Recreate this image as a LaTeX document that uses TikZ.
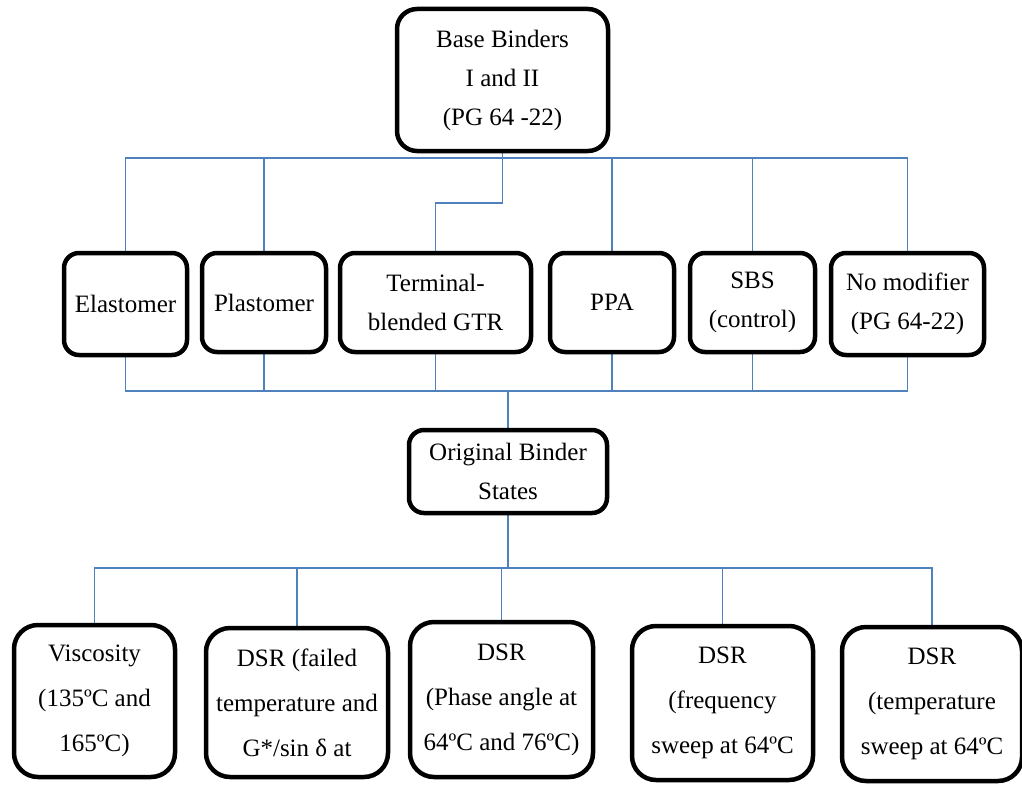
\documentclass[tikz,border=0pt]{standalone}
\usepackage{fontspec}
\setmainfont{Liberation Serif}
\usetikzlibrary{backgrounds}
\definecolor{linkblue}{HTML}{4F81BD}
\begin{document}
\begin{tikzpicture}[x=1pt,y=-1pt,
  box/.style={draw=black, line width=4.5pt, rounded corners=#1, inner sep=0pt,
    align=center, fill=white, font=\fontsize{25}{39}\selectfont},
  box/.default=15pt,
  lowbox/.style={box=24pt, font=\fontsize{25}{45}\selectfont},
  conn/.style={draw=linkblue, line width=1.8pt}]
\useasboundingbox (0,0) rectangle (1022,784);
\clip (0,0) rectangle (1022,784);
% top
\node[box=20pt, minimum width=211pt, minimum height=142pt] (top) at (502.5,80)
  {Base Binders\\I and II\\(PG 64 -22)};
% modifiers
\node[box, minimum width=123pt, minimum height=102pt] (elast) at (125.5,304) {Elastomer};
\node[box, minimum width=124pt, minimum height=99pt] (plast) at (264,302.5) {Plastomer};
\node[box, minimum width=191pt, minimum height=99pt] (term) at (435.5,302.5) {Terminal-\\blended GTR};
\node[box, minimum width=124pt, minimum height=99pt] (ppa) at (612,302.5) {PPA};
\node[box, minimum width=125pt, minimum height=99pt] (sbs) at (752.5,302.5) {SBS\\(control)};
\node[box, minimum width=153pt, minimum height=102pt] (nomod) at (907.5,304) {No modifier\\(PG 64-22)};
% original
\node[box, minimum width=198pt, minimum height=83pt] (orig) at (508,471.5) {Original Binder\\States};
% tests
\node[lowbox, minimum width=161pt, minimum height=152pt] (visc) at (94.5,701) {Viscosity\\(135ºC and\\165ºC)};
\node[lowbox, minimum width=182pt, minimum height=149pt] (dsra) at (297,702.5) {DSR (failed\\temperature and\\G*/sin δ at};
\node[lowbox, minimum width=183pt, minimum height=155pt] (dsrb) at (501.5,699.5) {DSR\\(Phase angle at\\64ºC and 76ºC)};
\node[lowbox, minimum width=181pt, minimum height=154pt] (dsrc) at (722.5,703) {DSR\\(frequency\\sweep at 64ºC};
\node[lowbox, minimum width=180pt, minimum height=154pt] (dsrd) at (932,704) {DSR\\(temperature\\sweep at 64ºC};
% connectors
\coordinate (busA) at (0,158);
\coordinate (jog) at (0,203);
\coordinate (busB) at (0,391);
\coordinate (busC) at (0,568);
\begin{scope}[on background layer]
\draw[conn] (elast.north) -- (elast.north |- busA) -- (nomod.north |- busA) -- (nomod.north);
\draw[conn] (plast.north) -- (plast.north |- busA);
\draw[conn] (ppa.north) -- (ppa.north |- busA);
\draw[conn] (sbs.north) -- (sbs.north |- busA);
\draw[conn] (top.south) -- (top.south |- jog) -| (term.north);
\draw[conn] (elast.south) -- (elast.south |- busB) -- (nomod.south |- busB) -- (nomod.south);
\draw[conn] (plast.south) -- (plast.south |- busB);
\draw[conn] (term.south) -- (term.south |- busB);
\draw[conn] (ppa.south) -- (ppa.south |- busB);
\draw[conn] (sbs.south) -- (sbs.south |- busB);
\draw[conn] (orig.north) -- (orig.north |- busB);
\draw[conn] (orig.south) -- (orig.south |- busC);
\draw[conn] (visc.north) -- (visc.north |- busC) -- (dsrd.north |- busC) -- (dsrd.north);
\draw[conn] (dsra.north) -- (dsra.north |- busC);
\draw[conn] (dsrb.north) -- (dsrb.north |- busC);
\draw[conn] (dsrc.north) -- (dsrc.north |- busC);
\end{scope}
\end{tikzpicture}
\end{document}
